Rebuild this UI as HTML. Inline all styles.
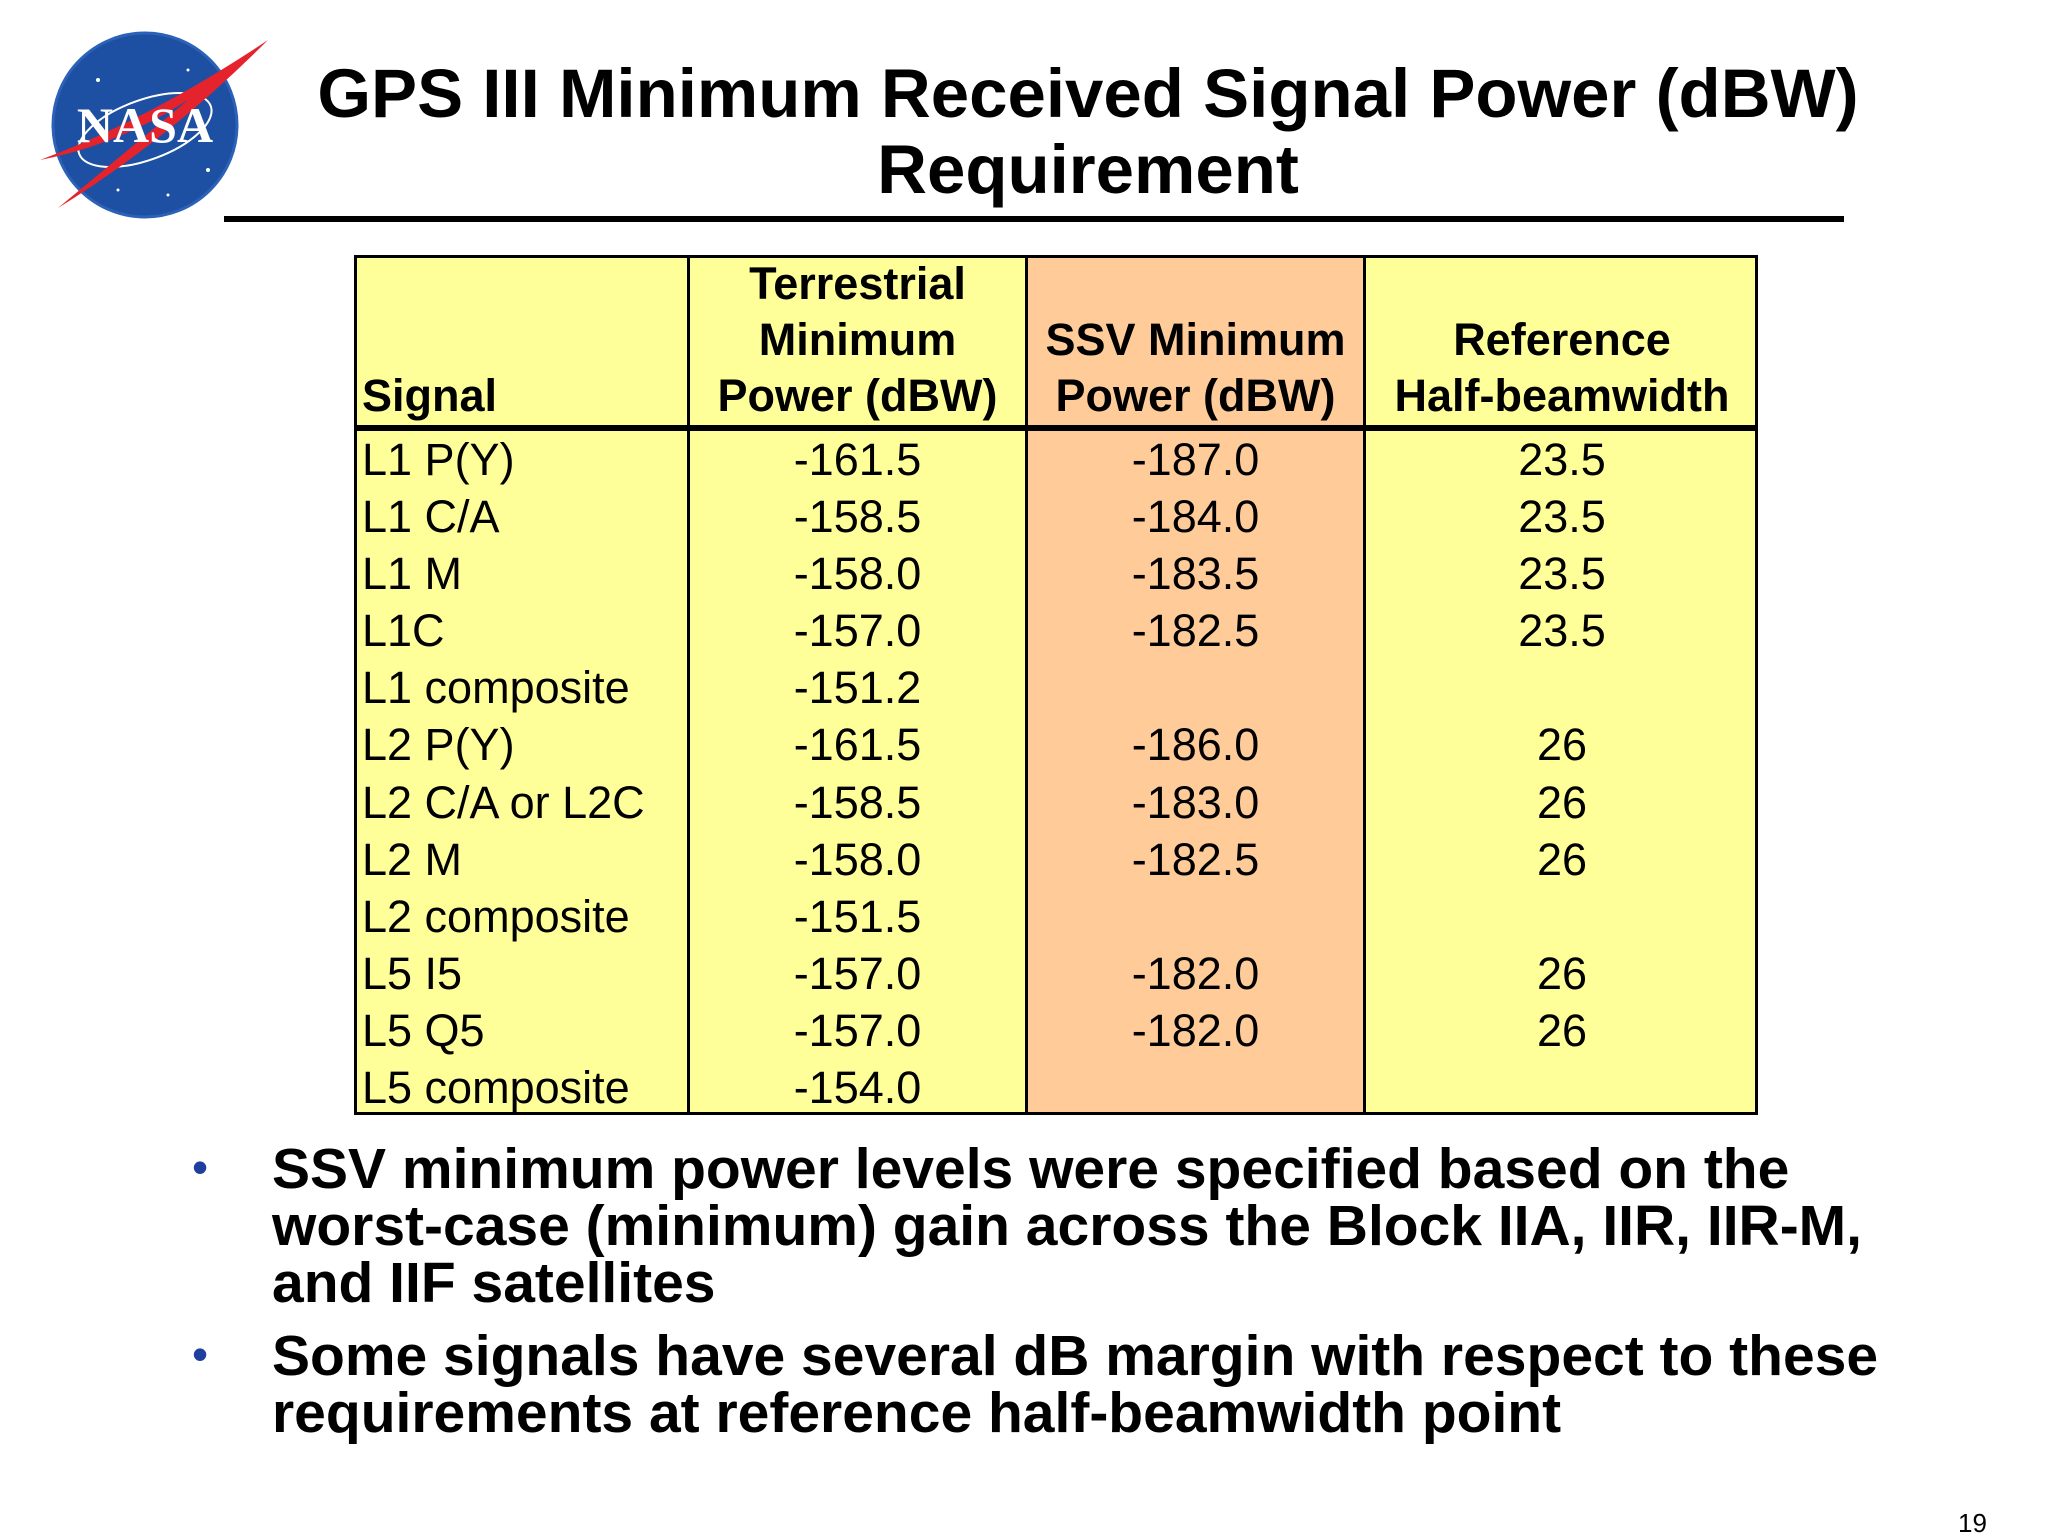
<!DOCTYPE html>
<html><head><meta charset="utf-8"><style>
body{margin:0;width:2048px;height:1536px;background:#fff;position:relative;overflow:hidden;font-family:"Liberation Sans",Arial,sans-serif;}
.a{position:absolute;}
.title{left:278px;width:1620px;text-align:center;font-weight:bold;font-size:69px;line-height:76px;color:#000;white-space:nowrap;}
.tb{position:absolute;left:354px;top:255px;width:1404px;height:860px;}
.cell{position:absolute;font-size:45px;line-height:57px;white-space:nowrap;}
.hd{position:absolute;font-weight:bold;font-size:45px;line-height:56px;text-align:center;white-space:nowrap;}
.bul{position:absolute;left:272px;font-weight:bold;font-size:57px;line-height:57px;color:#000;white-space:nowrap;}
.dot{position:absolute;left:192px;font-size:46px;color:#1f3fa0;}
</style></head><body>
<svg class="a" style="left:38px;top:30px" width="240" height="190" viewBox="0 0 240 190">
<circle cx="107" cy="95" r="92" fill="#1d4fa3"/>
<circle cx="107" cy="95" r="92" fill="none" stroke="#2b62b8" stroke-width="3"/>
<g fill="#fff"><circle cx="60" cy="50" r="2"/><circle cx="150" cy="40" r="1.5"/><circle cx="170" cy="140" r="2"/><circle cx="80" cy="160" r="1.5"/><circle cx="130" cy="165" r="1.5"/><circle cx="40" cy="120" r="1.5"/></g>
<ellipse cx="107" cy="100" rx="70" ry="30" fill="none" stroke="#fff" stroke-width="2" transform="rotate(-20 107 100)"/>
<path d="M2 130 Q110 90 230 10 Q130 110 20 178 Q90 120 150 70 Q80 115 2 130Z" fill="#e4232c"/>
<text x="107" y="112" text-anchor="middle" font-family="Liberation Serif,serif" font-weight="bold" font-size="50" fill="#fff">NASA</text>
</svg>
<div class="a title" style="top:56px">GPS III Minimum Received Signal Power (dBW)<br>Requirement</div>
<div class="a" style="left:224px;top:216px;width:1620px;height:6px;background:#000"></div>

<div class="tb">
<div class="a" style="left:0;top:0;width:1404px;height:860px;background:#ffff99"></div>
<div class="a" style="left:673px;top:0;width:338px;height:860px;background:#ffcc99"></div>
<div class="a" style="left:0;top:0;width:1398px;height:854px;border:3px solid #000"></div>
<div class="a" style="left:333px;top:0;width:3px;height:860px;background:#000"></div>
<div class="a" style="left:671px;top:0;width:3px;height:860px;background:#000"></div>
<div class="a" style="left:1009px;top:0;width:3px;height:860px;background:#000"></div>
<div class="a" style="left:0;top:170px;width:1404px;height:6px;background:#000"></div>

<div class="hd" style="left:8px;top:113px;text-align:left">Signal</div>
<div class="hd" style="left:336px;width:335px;top:1px">Terrestrial<br>Minimum<br>Power (dBW)</div>
<div class="hd" style="left:674px;width:335px;top:57px">SSV Minimum<br>Power (dBW)</div>
<div class="hd" style="left:1012px;width:392px;top:57px">Reference<br>Half-beamwidth</div>

<div class="a" style="left:0;top:176px;width:1404px">
<div class="cell" style="left:8px;top:0;line-height:57.1px">L1 P(Y)<br>L1 C/A<br>L1 M<br>L1C<br>L1 composite<br>L2 P(Y)<br>L2 C/A or L2C<br>L2 M<br>L2 composite<br>L5 I5<br>L5 Q5<br>L5 composite</div>
<div class="cell" style="left:336px;width:335px;text-align:center;top:0;line-height:57.1px">-161.5<br>-158.5<br>-158.0<br>-157.0<br>-151.2<br>-161.5<br>-158.5<br>-158.0<br>-151.5<br>-157.0<br>-157.0<br>-154.0</div>
<div class="cell" style="left:674px;width:335px;text-align:center;top:0;line-height:57.1px">-187.0<br>-184.0<br>-183.5<br>-182.5<br>&nbsp;<br>-186.0<br>-183.0<br>-182.5<br>&nbsp;<br>-182.0<br>-182.0<br>&nbsp;</div>
<div class="cell" style="left:1012px;width:392px;text-align:center;top:0;line-height:57.1px">23.5<br>23.5<br>23.5<br>23.5<br>&nbsp;<br>26<br>26<br>26<br>&nbsp;<br>26<br>26<br>&nbsp;</div>
</div>
</div>

<div class="dot" style="top:1140px">•</div>
<div class="bul" style="top:1141px">SSV minimum power levels were specified based on the<br>worst-case (minimum) gain across the Block IIA, IIR, IIR-M,<br>and IIF satellites</div>
<div class="dot" style="top:1327px">•</div>
<div class="bul" style="top:1328px">Some signals have several dB margin with respect to these<br>requirements at reference half-beamwidth point</div>
<div class="a" style="left:1958px;top:1508px;font-size:26px">19</div>
</body></html>
